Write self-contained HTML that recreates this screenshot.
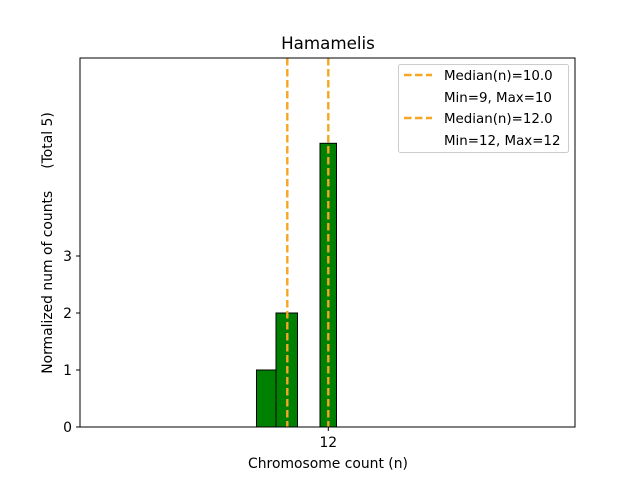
<!DOCTYPE html>
<html><head><style>body{margin:0;background:#fff}</style></head><body>
<svg width="640" height="480" xmlns="http://www.w3.org/2000/svg" font-family="DejaVu Sans, Liberation Sans, sans-serif">
<rect width="640" height="480" fill="#fff"/>
<line x1="80" y1="427" x2="358" y2="427" stroke="#000" stroke-width="1"/>
<rect x="256.5" y="370" width="19.5" height="57" fill="#008000" stroke="#000" stroke-width="1"/>
<rect x="276" y="313" width="21.5" height="114" fill="#008000" stroke="#000" stroke-width="1"/>
<rect x="320" y="143.3" width="16.5" height="283.7" fill="#008000" stroke="#000" stroke-width="1"/>
<line x1="287.3" y1="58" x2="287.3" y2="427" stroke="#f5a623" stroke-width="2.4" stroke-dasharray="7.5,3.5"/>
<line x1="328.3" y1="58" x2="328.3" y2="427" stroke="#f5a623" stroke-width="2.4" stroke-dasharray="7.5,3.5"/>
<rect x="80" y="58" width="495" height="369" fill="none" stroke="#000" stroke-width="1"/>
<g font-size="13.9" fill="#000">
<line x1="76" y1="427" x2="80" y2="427" stroke="#000"/><text x="72" y="432" text-anchor="end">0</text>
<line x1="76" y1="370" x2="80" y2="370" stroke="#000"/><text x="72" y="375" text-anchor="end">1</text>
<line x1="76" y1="313" x2="80" y2="313" stroke="#000"/><text x="72" y="318" text-anchor="end">2</text>
<line x1="76" y1="256" x2="80" y2="256" stroke="#000"/><text x="72" y="261" text-anchor="end">3</text>
<line x1="328.3" y1="427" x2="328.3" y2="431" stroke="#000"/><text x="328.3" y="447" text-anchor="middle">12</text>
<text x="328" y="468" text-anchor="middle">Chromosome count (n)</text>
<text transform="translate(52,243) rotate(-90)" text-anchor="middle">Normalized num of counts&#160;&#160;&#160;&#160;&#160;(Total 5)</text>
</g>
<text x="328" y="49" font-size="16.7" text-anchor="middle">Hamamelis</text>
<rect x="398.5" y="64.5" width="170" height="88" fill="#fff" fill-opacity="0.8" stroke="#ccc" rx="2"/>
<g font-size="13.4" fill="#000">
<line x1="404" y1="75" x2="432" y2="75" stroke="#f5a623" stroke-width="2.4" stroke-dasharray="7.5,3.5"/>
<text x="444" y="80">Median(n)=10.0</text>
<text x="444" y="102">Min=9, Max=10</text>
<line x1="404" y1="118" x2="432" y2="118" stroke="#f5a623" stroke-width="2.4" stroke-dasharray="7.5,3.5"/>
<text x="444" y="123">Median(n)=12.0</text>
<text x="444" y="145">Min=12, Max=12</text>
</g>
</svg>
</body></html>
